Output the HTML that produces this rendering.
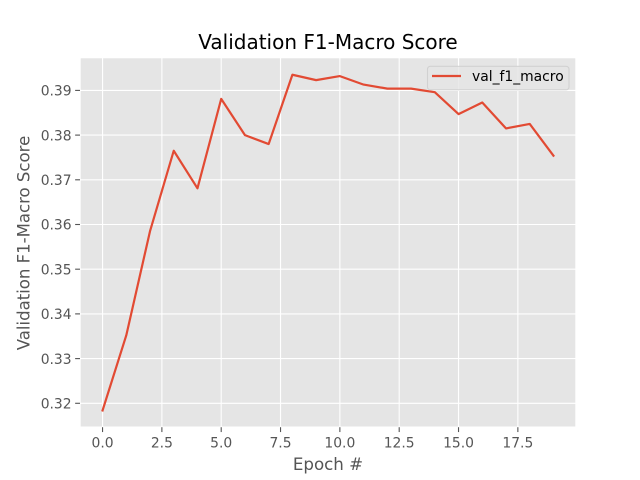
<!DOCTYPE html>
<html>
<head>
<meta charset="utf-8">
<title>Validation F1-Macro Score</title>
<style>
html,body{margin:0;padding:0;background:#fff;width:640px;height:480px;overflow:hidden}
svg{display:block}
text{font-family:"DejaVu Sans","Liberation Sans",sans-serif}
</style>
</head>
<body>
<svg id="chart" xmlns="http://www.w3.org/2000/svg" width="640" height="480" viewBox="0 0 640 480">
  <rect x="0" y="0" width="640" height="480" fill="#ffffff"/>
  <rect x="80" y="57.6" width="496" height="369.6" fill="#E5E5E5"/>
  <g id="grid"></g>
  <rect x="80" y="57.6" width="496" height="369.6" fill="none" stroke="#ffffff" stroke-width="1.39"/>
  <g id="ticks"></g>
  <polyline id="series" fill="none" stroke="#E24A33" stroke-width="2.2" stroke-linejoin="round" stroke-linecap="square"/>
  <text x="328" y="49" font-size="20" fill="#000000" text-anchor="middle">Validation F1-Macro Score</text>
  <text x="328" y="470" font-size="16.67" fill="#555555" text-anchor="middle">Epoch #</text>
  <text transform="translate(29.5,243) rotate(-90)" font-size="16.67" fill="#555555" text-anchor="middle" textLength="214.5" lengthAdjust="spacingAndGlyphs">Validation F1-Macro Score</text>
  <g>
    <rect x="427.5" y="66.3" width="141.5" height="23.5" rx="2.8" ry="2.8" fill="#E5E5E5" fill-opacity="0.8" stroke="#CCCCCC" stroke-opacity="0.8" stroke-width="1.1"/>
    <line x1="432" y1="76" x2="461" y2="76" stroke="#E24A33" stroke-width="2.2"/>
    <text x="472" y="81" font-size="13.89" fill="#000000">val_f1_macro</text>
  </g>
</svg>
<script>
const epochs = [0,1,2,3,4,5,6,7,8,9,10,11,12,13,14,15,16,17,18,19];
const valF1Macro = [0.3184,0.3352,0.3585,0.3765,0.3681,0.3881,0.3800,0.3780,0.3935,0.3923,0.3932,0.3913,0.3904,0.3904,0.3896,0.3847,0.3873,0.3815,0.3825,0.3754];
const xTickValues = [0,2.5,5,7.5,10,12.5,15,17.5];
const xTickLabels = ["0.0","2.5","5.0","7.5","10.0","12.5","15.0","17.5"];
const yTickValues = [0.32,0.33,0.34,0.35,0.36,0.37,0.38,0.39];
const yTickLabels = ["0.32","0.33","0.34","0.35","0.36","0.37","0.38","0.39"];

const NS = "http://www.w3.org/2000/svg";
const plot = {left:80, right:576, top:57.6, bottom:427.2};
const xDomain = [-0.95, 19.95];
const yDomain = [0.31465, 0.39734];
function xScale(v){
  return plot.left + (v - xDomain[0]) / (xDomain[1] - xDomain[0]) * (plot.right - plot.left);
}
function yScale(v){
  return plot.bottom - (v - yDomain[0]) / (yDomain[1] - yDomain[0]) * (plot.bottom - plot.top);
}
function lineEl(x1,y1,x2,y2,color){
  const l = document.createElementNS(NS,"line");
  l.setAttribute("x1",x1);
  l.setAttribute("y1",y1);
  l.setAttribute("x2",x2);
  l.setAttribute("y2",y2);
  l.setAttribute("stroke",color);
  l.setAttribute("stroke-width","1.11");
  return l;
}
function labelEl(x,y,anchor,str){
  const t = document.createElementNS(NS,"text");
  t.setAttribute("x",x);
  t.setAttribute("y",y);
  t.setAttribute("text-anchor",anchor);
  t.setAttribute("font-size","13.89");
  t.setAttribute("fill","#555555");
  t.textContent = str;
  return t;
}
const grid = document.getElementById("grid");
const ticks = document.getElementById("ticks");
xTickValues.forEach(function(v,i){
  const x = xScale(v);
  const g = lineEl(x,plot.top,x,plot.bottom,"#ffffff");
  
  
  grid.appendChild(g);
  const t = lineEl(x,plot.bottom,x,plot.bottom+4.86,"#555555");
  
  
  ticks.appendChild(t);
  const lb = labelEl(x,plot.bottom+20.5,"middle",xTickLabels[i]);
  
  
  ticks.appendChild(lb);
});
yTickValues.forEach(function(v,i){
  const y = yScale(v);
  const g = lineEl(plot.left,y,plot.right,y,"#ffffff");
  
  
  grid.appendChild(g);
  const t = lineEl(plot.left-4.86,y,plot.left,y,"#555555");
  
  
  ticks.appendChild(t);
  const lb = labelEl(plot.left-8.4,y+5.2,"end",yTickLabels[i]);
  
  
  ticks.appendChild(lb);
});
document.getElementById("series").setAttribute("points", epochs.map(function(e,i){
  return xScale(e).toFixed(2) + "," + yScale(valF1Macro[i]).toFixed(2);
}).join(" "));
</script>
</body>
</html>
